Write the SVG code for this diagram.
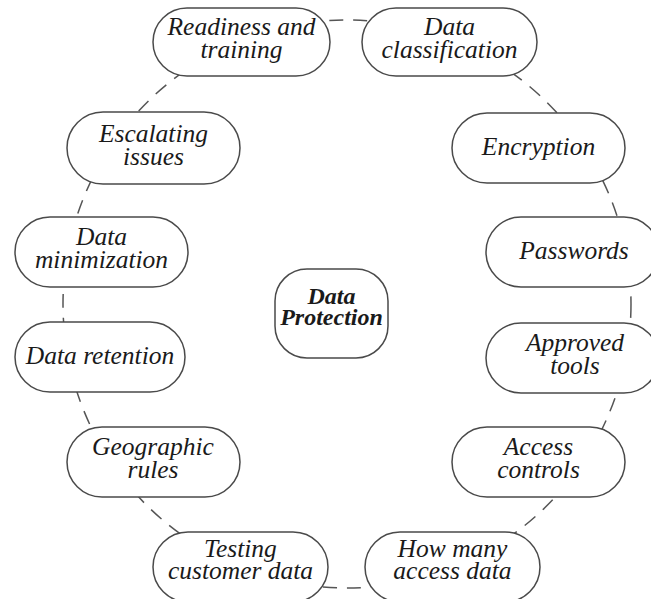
<svg xmlns="http://www.w3.org/2000/svg" width="651" height="599" viewBox="0 0 651 599">
<style>
.bg{fill:#ffffff}
.ring{fill:none;stroke:#555555;stroke-width:1.5;stroke-dasharray:14 10}
.node{fill:#ffffff;stroke:#4a4a4a;stroke-width:1.5}
.t{font-family:"Liberation Serif","Times New Roman",serif;font-style:italic;font-size:25.5px;fill:#1a1a1a;text-anchor:middle}
.c{font-family:"Liberation Serif","Times New Roman",serif;font-style:italic;font-weight:bold;font-size:24px;fill:#1a1a1a;text-anchor:middle}
</style>
<rect class="bg" x="0" y="0" width="651" height="599"/>
<g id="connectors">
<circle class="ring" cx="347" cy="304" r="284"/>
</g>
<g id="n-readiness">
<rect class="node" x="153" y="8" width="177" height="68" rx="34"/>
<text class="t" x="241.5" y="35">Readiness and<tspan x="241.5" dy="23">training</tspan></text>
</g>
<g id="n-classification">
<rect class="node" x="362" y="8" width="175" height="68" rx="34"/>
<text class="t" x="449.5" y="35">Data<tspan x="449.5" dy="23">classification</tspan></text>
</g>
<g id="n-encryption">
<rect class="node" x="452" y="113" width="173" height="70" rx="35"/>
<text class="t" x="538.5" y="155">Encryption</text>
</g>
<g id="n-passwords">
<rect class="node" x="486" y="217" width="173" height="70" rx="35"/>
<text class="t" x="574" y="259">Passwords</text>
</g>
<g id="n-approved">
<rect class="node" x="486" y="323" width="173" height="70" rx="35"/>
<text class="t" x="575" y="351">Approved<tspan x="575" dy="23">tools</tspan></text>
</g>
<g id="n-access">
<rect class="node" x="452" y="427" width="173" height="70" rx="35"/>
<text class="t" x="538.5" y="455">Access<tspan x="538.5" dy="23">controls</tspan></text>
</g>
<g id="n-howmany">
<rect class="node" x="365" y="532" width="175" height="70" rx="35"/>
<text class="t" x="452.5" y="557">How many<tspan x="452.5" dy="22">access data</tspan></text>
</g>
<g id="n-testing">
<rect class="node" x="153" y="532" width="175" height="70" rx="35"/>
<text class="t" x="240.5" y="557">Testing<tspan x="240.5" dy="22">customer data</tspan></text>
</g>
<g id="n-geographic">
<rect class="node" x="67" y="427" width="173" height="70" rx="35"/>
<text class="t" x="153" y="455">Geographic<tspan x="153" dy="23">rules</tspan></text>
</g>
<g id="n-retention">
<rect class="node" x="15" y="322" width="170" height="70" rx="35"/>
<text class="t" x="100" y="364">Data retention</text>
</g>
<g id="n-minimization">
<rect class="node" x="15" y="217" width="173" height="70" rx="35"/>
<text class="t" x="101.5" y="245">Data<tspan x="101.5" dy="23">minimization</tspan></text>
</g>
<g id="n-escalating">
<rect class="node" x="67" y="112" width="173" height="72" rx="36"/>
<text class="t" x="153.5" y="142">Escalating<tspan x="153.5" dy="23">issues</tspan></text>
</g>
<g id="n-center">
<rect class="node" x="275" y="269" width="113" height="89" rx="32"/>
<text class="c" x="331.5" y="304">Data<tspan x="331.5" dy="21">Protection</tspan></text>
</g>
</svg>
